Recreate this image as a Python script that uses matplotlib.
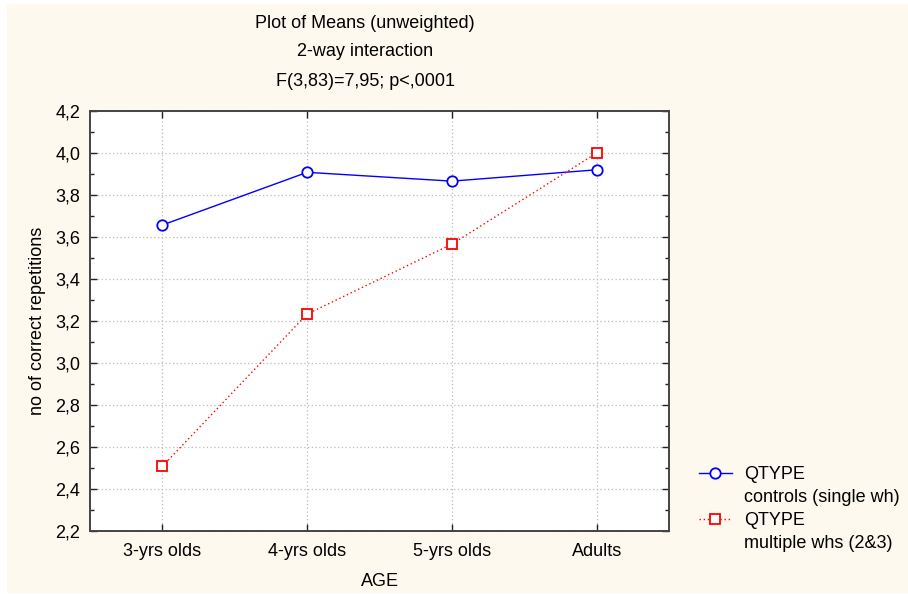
import matplotlib
matplotlib.use("Agg")
import matplotlib.pyplot as plt
from matplotlib.lines import Line2D
from matplotlib.patches import Rectangle
from matplotlib.ticker import MultipleLocator, FuncFormatter

# data
ages = ["3-yrs olds", "4-yrs olds", "5-yrs olds", "Adults"]
controls = [3.657, 3.908, 3.866, 3.920]
multiple = [2.508, 3.233, 3.566, 4.000]
factor = "QTYPE"
levels = ["controls (single wh)", "multiple whs (2&3)"]

plt.rcParams["font.family"] = ["Liberation Sans", "DejaVu Sans"]
plt.rcParams["font.size"] = 13

W, H = 908, 594
fig = plt.figure(figsize=(W / 100, H / 100), dpi=100, facecolor="white")

# cream panel behind the chart
fig.patches.append(Rectangle((7 / W, 1 / H), 1 - 7 / W, 589 / H,
                             transform=fig.transFigure, facecolor="#fdf9ee",
                             edgecolor="none", zorder=-5))

ax = fig.add_axes([90 / W, (H - 531) / H, 579 / W, 420 / H])
ax.set_facecolor("white")

x = list(range(len(ages)))
l1, = ax.plot(x, controls, color="#0000ff", lw=1.0, marker="o", ms=7.5,
              mfc="white", mec="#0000ff", mew=1.3, zorder=3)
l2, = ax.plot(x, multiple, color="#ff0000", lw=1.0, ls=(0, (1, 2)), marker="s", ms=7,
              mfc="white", mec="#ff0000", mew=1.3, zorder=3)

ax.set_xlim(-0.5, 3.5)
ax.set_ylim(2.2, 4.2)
ax.set_xticks(x)
ax.set_xticklabels(ages)
ax.yaxis.set_major_locator(MultipleLocator(0.2))
ax.yaxis.set_minor_locator(MultipleLocator(0.1))
ax.yaxis.set_major_formatter(FuncFormatter(lambda v, p: f"{v:.1f}".replace(".", ",")))

ax.tick_params(which="both", direction="in", top=True, right=True, color="#222222")
ax.tick_params(which="major", length=5, width=1, labelsize=13)
ax.tick_params(which="minor", length=3, width=1)
ax.tick_params(axis="x", pad=9)
ax.tick_params(axis="y", pad=7)

ax.grid(True, which="major", color="#bbbbbb", ls=(0, (1, 2)), lw=0.9)
for s in ax.spines.values():
    s.set_color("#444444")
    s.set_linewidth(1.4)

ax.set_xlabel("AGE", fontsize=13, labelpad=9)
ax.set_ylabel("no of correct repetitions", fontsize=13, labelpad=7)

fig.text(365 / W, 1 - 23 / H, "Plot of Means (unweighted)", ha="center", va="center", fontsize=13)
fig.text(365 / W, 1 - 52 / H, "2-way interaction", ha="center", va="center", fontsize=13)
fig.text(365 / W, 1 - 82 / H, "F(3,83)=7,95; p<,0001", ha="center", va="center", fontsize=13)

# legend: handle on the factor line, level name on the line below
blank = Line2D([], [], color="none")
leg = ax.legend([l1, blank, l2, blank], [factor, levels[0], factor, levels[1]],
                loc="upper left", bbox_to_anchor=(699 / W, 1 - 466 / H),
                bbox_transform=fig.transFigure, frameon=False, fontsize=13,
                handlelength=1.8, handletextpad=0.7, labelspacing=0.33,
                borderaxespad=0, borderpad=0)

fig.savefig("out.png", dpi=100, facecolor=fig.get_facecolor())
